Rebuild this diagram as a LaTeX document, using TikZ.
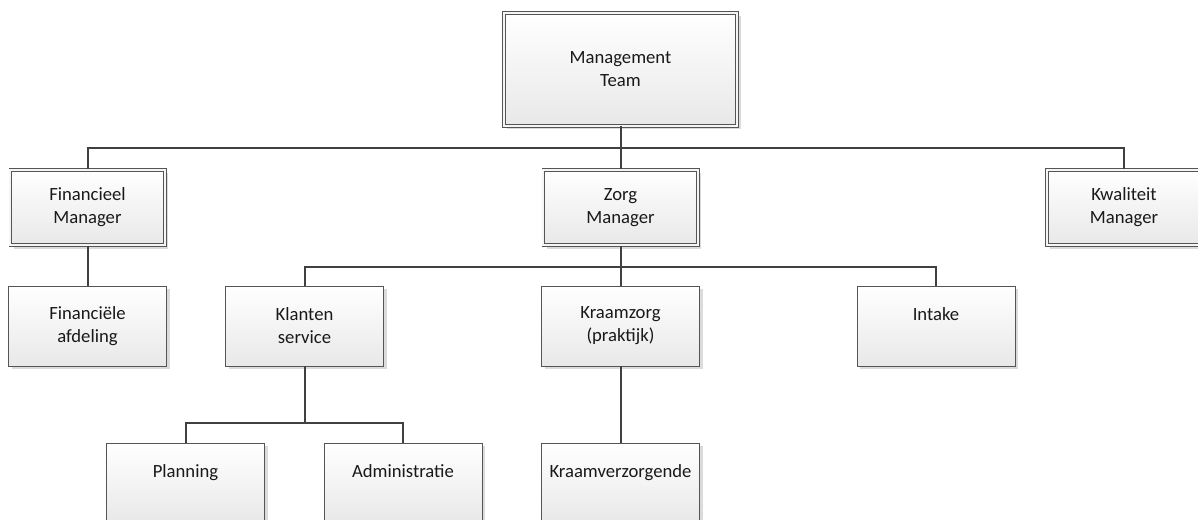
\documentclass[tikz,border=0pt]{standalone}
\usepackage{fontspec}
\setmainfont{Carlito}
\usetikzlibrary{shadows}
\definecolor{edge}{HTML}{404040}
\definecolor{rim}{HTML}{555555}
\tikzstyle{unit} = [rectangle, draw=rim, line width=0.6pt, top color=white, bottom color=black!9,
  drop shadow={shadow xshift=2.5pt, shadow yshift=-2.5pt, fill=black!14, opacity=1},
  minimum width=118.5pt, minimum height=60pt, inner sep=2pt, align=center, text=black!90,
  font=\fontsize{14}{17.25}\selectfont]
\tikzstyle{mgr} = [unit, double=black!4, double distance=1.7pt, line width=0.5pt,
  minimum width=115.8pt, minimum height=56.6pt]
\tikzstyle{link} = [draw=edge, line width=1.5pt]

\begin{document}
\begin{tikzpicture}[x=0.75pt, y=-0.75pt]
    \useasboundingbox (0,0) rectangle (1198,520);
    \node (mt) [mgr, minimum width=175pt, minimum height=85pt] at (620.5,69.5) {Management\\Team};
    \node (fm) [mgr] at (87.5,207.5) {Financieel\\Manager};
    \node (zm) [mgr] at (620.5,207.5) {Zorg\\Manager};
    \node (km) [mgr] at (1124,207.5) {Kwaliteit\\Manager};
    \node (fa) [unit] at (87.5,326) {Financiële\\afdeling};
    \node (ks) [unit] at (304.5,326) {Klanten\\service};
    \node (kz) [unit] at (620.5,326) {Kraamzorg\\(praktijk)};
    \node (in) [unit] at (936,326) {Intake\\~};
    \node (pl) [unit] at (185.5,483) {Planning\\~};
    \node (ad) [unit] at (403,483) {Administratie\\~};
    \node (kv) [unit] at (620.5,483) {Kraamverzorgende\\~};
    \coordinate (top) at (620.5,148);
    \coordinate (mid) at (620.5,267);
    \coordinate (low) at (304.5,423);
    \draw [link] (mt.south) -- (top);
    \draw [link] (top) -| (fm.north);
    \draw [link] (top) -- (zm.north);
    \draw [link] (top) -| (km.north);
    \draw [link] (fm.south) -- (fa.north);
    \draw [link] (zm.south) -- (mid);
    \draw [link] (mid) -| (ks.north);
    \draw [link] (mid) -- (kz.north);
    \draw [link] (mid) -| (in.north);
    \draw [link] (ks.south) -- (low);
    \draw [link] (low) -| (pl.north);
    \draw [link] (low) -| (ad.north);
    \draw [link] (kz.south) -- (kv.north);
\end{tikzpicture}
\end{document}
